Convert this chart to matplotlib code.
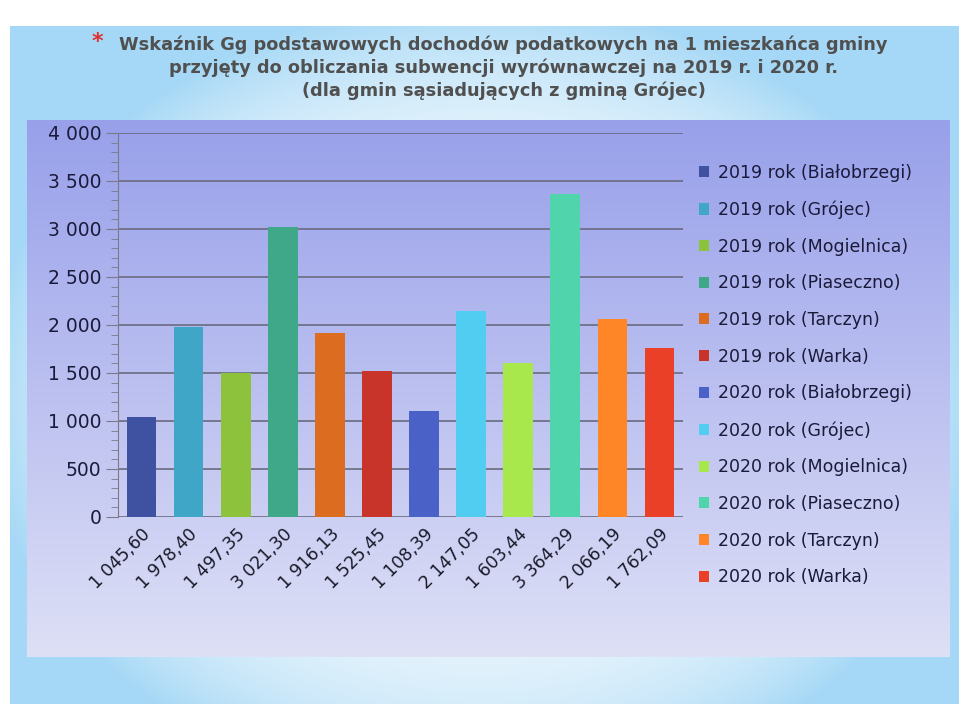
import numpy as np
import matplotlib
matplotlib.use("Agg")
import matplotlib.pyplot as plt
from matplotlib.ticker import MultipleLocator, FuncFormatter

# data
series = ["2019 rok (Białobrzegi)", "2019 rok (Grójec)", "2019 rok (Mogielnica)",
          "2019 rok (Piaseczno)", "2019 rok (Tarczyn)", "2019 rok (Warka)",
          "2020 rok (Białobrzegi)", "2020 rok (Grójec)", "2020 rok (Mogielnica)",
          "2020 rok (Piaseczno)", "2020 rok (Tarczyn)", "2020 rok (Warka)"]
values = [1045.60, 1978.40, 1497.35, 3021.30, 1916.13, 1525.45,
          1108.39, 2147.05, 1603.44, 3364.29, 2066.19, 1762.09]
colors = ["#3f52a2", "#3fa6c8", "#8cc23c", "#3fa888", "#dc6c20", "#c8342a",
          "#4a62c8", "#50cdf0", "#a8e84c", "#50d4ac", "#ff8626", "#ea4028"]

title = ("Wskaźnik Gg podstawowych dochodów podatkowych na 1 mieszkańca gminy\n"
         "przyjęty do obliczania subwencji wyrównawczej na 2019 r. i 2020 r.\n"
         "(dla gmin sąsiadujących z gminą Grójec)")


def pl_num(v, dec=2):
    s = f"{v:,.{dec}f}".replace(",", " ").replace(".", ",")
    return s


W, H = 959, 704
fig = plt.figure(figsize=(W / 100, H / 100), dpi=100, facecolor="white")

# slide background: light blue with white glow, plus the chart panel gradient
yy, xx = np.mgrid[0:H, 0:W]
t = np.sqrt(((xx - 480) / 500.0) ** 2 + ((yy - 400) / 400.0) ** 2)
t = np.clip(t, 0, 1) ** 4
blue = np.array([165, 216, 246]) / 255.0
pale = np.array([238, 247, 253]) / 255.0
img = (1 - t[..., None]) * pale + t[..., None] * blue
img[:26, :, :] = 1.0
img[:, :10, :] = 1.0
# panel
p_top, p_bot, p_left, p_right = 120, 657, 27, 950
top_c = np.array([152, 160, 234]) / 255.0
bot_c = np.array([222, 224, 246]) / 255.0
f = np.linspace(0, 1, p_bot - p_top)[:, None]
grad = (1 - f) * top_c + f * bot_c
img[p_top:p_bot, p_left:p_right, :] = grad[:, None, :]

bg = fig.add_axes([0, 0, 1, 1], zorder=0)
bg.imshow(img, aspect="auto", extent=(0, W, H, 0))
bg.set_axis_off()

# title
fig.text(0.525, 1 - 68 / H, title, ha="center", va="center", fontsize=12.8,
         fontweight="bold", color="#505050", linespacing=1.3)
fig.text(97 / W, 1 - 42 / H, "*", ha="center", va="center", fontsize=16,
         fontweight="bold", color="#e03030")

# chart
ax = fig.add_axes([118 / W, 1 - 517 / H, (683 - 118) / W, (517 - 133) / H], zorder=1)
ax.set_facecolor("none")
x = np.arange(len(values))
bars = ax.bar(x, values, width=0.63, color=colors, zorder=3)

ax.set_xlim(-0.5, len(values) - 0.5)
ax.set_ylim(0, 4000)
ax.yaxis.set_major_locator(MultipleLocator(500))
ax.yaxis.set_minor_locator(MultipleLocator(100))
ax.yaxis.set_major_formatter(FuncFormatter(lambda v, p: pl_num(v, 0)))
ax.grid(axis="y", color="#6a6a80", linewidth=1.2, zorder=1)
ax.get_ygridlines()[0].set_visible(False)

for s in ["top", "right", "bottom"]:
    ax.spines[s].set_visible(False)
ax.spines["left"].set_color("#7a7a8a")
ax.tick_params(axis="y", which="major", length=9, color="#7a7a8a",
               labelsize=13.5, labelcolor="#1a1a3a", pad=3)
ax.tick_params(axis="y", which="minor", length=5, color="#7a7a8a")
ax.set_xticks(x)
ax.set_xticklabels([pl_num(v) for v in values], rotation=45, ha="right",
                   rotation_mode="anchor", fontsize=12.5, color="#1a1a2a")
ax.tick_params(axis="x", length=0, pad=6)

leg = fig.legend(bars, series, loc="upper left", bbox_to_anchor=(692 / W, 1 - 157 / H),
                 frameon=False, fontsize=12.5, handlelength=0.6, handleheight=0.6,
                 handletextpad=0.5, labelspacing=1.075, borderaxespad=0)
for txt in leg.get_texts():
    txt.set_color("#1a1a3a")

fig.savefig("out.png", dpi=100, facecolor="white")
